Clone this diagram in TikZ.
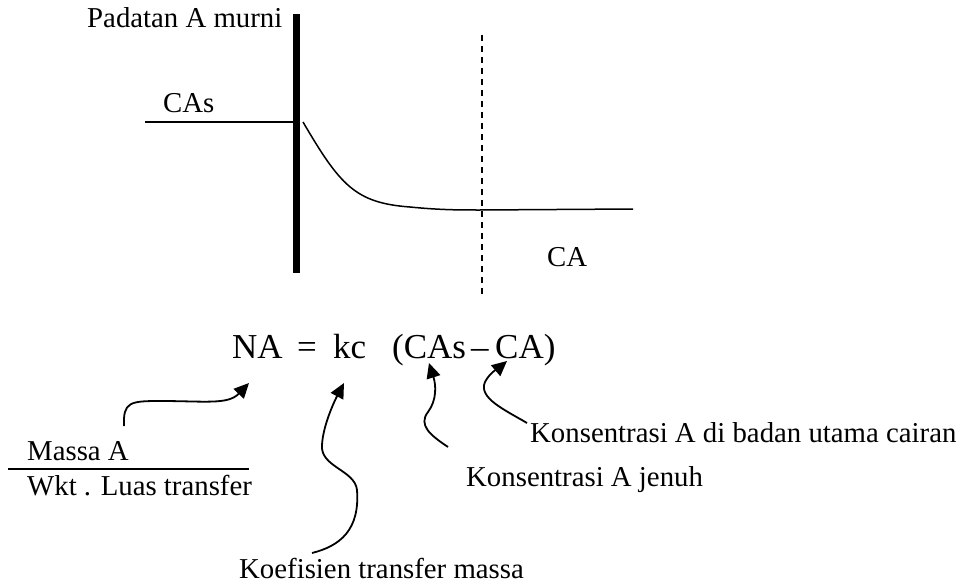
\documentclass[tikz,border=0pt]{standalone}
\usepackage{fontspec}
\setmainfont{Liberation Serif}
\usetikzlibrary{arrows.meta}
\begin{document}
\begin{tikzpicture}[x=1pt,y=-1pt,
  lbl/.style={anchor=base west,inner sep=0pt,font=\fontsize{28.8}{34}\selectfont},
  eq/.style={anchor=base west,inner sep=0pt,font=\fontsize{35}{40}\selectfont},
  thin line/.style={line width=1.5pt},
  arr/.style={line width=1.8pt,-{Triangle[length=15pt,width=14pt]}}]
\useasboundingbox (0,0) rectangle (959,586);
% wall and profile
\coordinate (wt) at (296,14);
\coordinate (wb) at (296,273);
\draw[line width=7pt] (wt) -- (wb);
\coordinate (cs0) at (145,122);
\coordinate (cs1) at (293,122);
\draw[thin line] (cs0) -- (cs1);
\coordinate (p0) at (303,122);
\coordinate (p1) at (480,210);
\coordinate (p2) at (633,209);
\draw[thin line] (p0) .. controls (340,185) and (355,203) .. (410,207)
  .. controls (440,210) and (460,210) .. (p1) -- (p2);
\coordinate (dt) at (482,35);
\coordinate (db) at (482,297);
\draw[line width=2pt,dash pattern=on 6pt off 5pt] (dt) -- (db);
% labels
\node[lbl] (pad) at (87,28) {Padatan A murni};
\node[lbl] (cas) at (163,113) {CAs};
\node[lbl] (ca) at (547,266) {CA};
% equation
\node[eq] (na) at (232,358) {NA};
\node[eq] (eqs) at (297,358) {=};
\node[eq] (kc) at (333,358) {kc};
\node[eq] (cas2) at (392,358) {(CAs};
\node[eq] (minus) at (471,358) {–};
\node[eq] (ca2) at (495,358) {CA)};
% fraction
\node[lbl] (massa) at (27,460) {Massa A};
\node[lbl] (wkt) at (27,495) {Wkt . Luas transfer};
\coordinate (f0) at (8,469);
\coordinate (f1) at (249,469);
\draw[thin line] (f0) -- (f1);
% descriptions
\node[lbl] (koef) at (239,578) {Koefisien transfer massa};
\node[lbl] (cair) at (530,442) {Konsentrasi A di badan utama cairan};
\node[lbl] (jenuh) at (466,486) {Konsentrasi A jenuh};
% arrows
\coordinate (a1s) at (124,426);
\coordinate (a1e) at (249,383);
\draw[arr] (a1s) .. controls (123,402) and (130,401) .. (160,401)
  .. controls (205,401) and (228,405) .. (a1e);
\coordinate (a2s) at (312,553);
\coordinate (a2e) at (344,383);
\draw[arr] (a2s) .. controls (340,546) and (360,530) .. (357,490)
  .. controls (355,470) and (320,467) .. (322,445)
  .. controls (323,425) and (335,400) .. (a2e);
\coordinate (a3s) at (448,447);
\coordinate (a3e) at (429,363);
\draw[arr] (a3s) .. controls (430,435) and (418,425) .. (428,412)
  .. controls (437,400) and (436,385) .. (a3e);
\coordinate (a4s) at (527,423);
\coordinate (a4e) at (507,361);
\draw[arr] (a4s) .. controls (505,410) and (478,398) .. (485,382)
  .. controls (490,372) and (500,367) .. (a4e);
\end{tikzpicture}
\end{document}
